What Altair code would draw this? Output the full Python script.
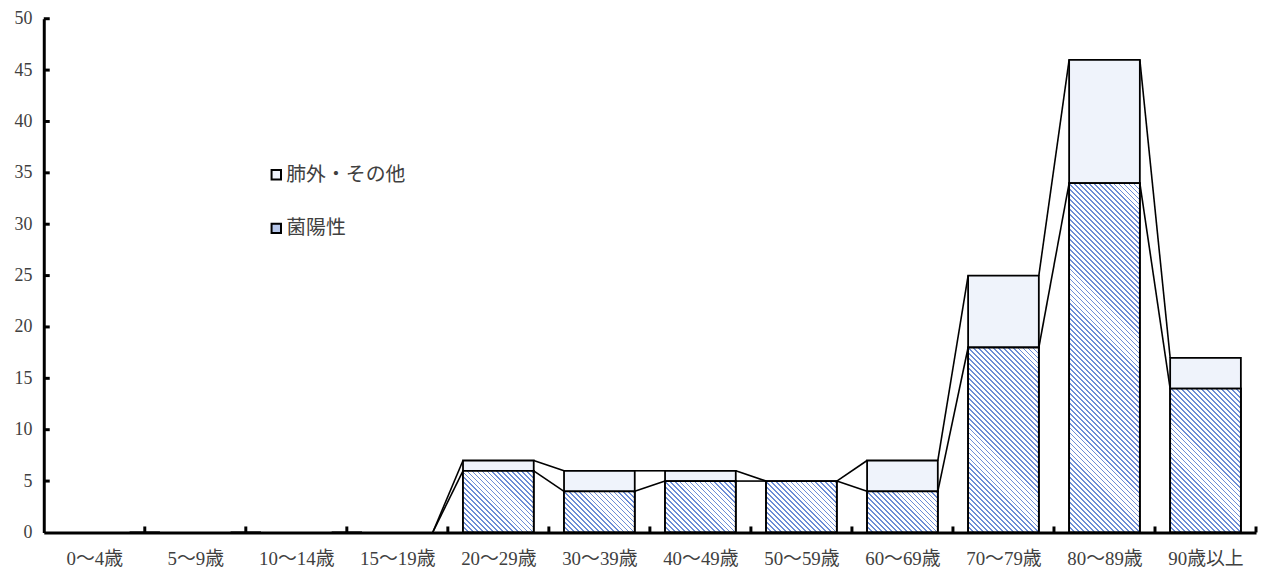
import altair as alt
import pandas as pd

categories = ["0～4歳", "5～9歳", "10～14歳", "15～19歳", "20～29歳", "30～39歳",
              "40～49歳", "50～59歳", "60～69歳", "70～79歳", "80～89歳", "90歳以上"]
positive = [0, 0, 0, 0, 6, 4, 5, 5, 4, 18, 34, 14]      # 菌陽性
extra = [0, 0, 0, 0, 1, 2, 1, 0, 3, 7, 12, 3]           # 肺外・その他
series_names = ["肺外・その他", "菌陽性"]
series_colors = ["#eff3fb", "#b7c7ea"]
y_ticks = list(range(0, 51, 5))

FONT = "Liberation Serif, Noto Sans CJK JP"
HALF = 0.35
W, H = 1220, 517
Y_MAX = 50
HATCH_BLUE = "#6d8dd6"
HATCH_PERIOD = 5.0      # px, horizontal spacing of the diagonal hatch
HATCH_FRAC = 0.36

totals = [p + e for p, e in zip(positive, extra)]

rows = []
for i, c in enumerate(categories):
    if positive[i] > 0:
        rows.append(dict(idx=i, cat=c, series="菌陽性", lo=0, hi=positive[i]))
    if extra[i] > 0:
        rows.append(dict(idx=i, cat=c, series="肺外・その他", lo=positive[i], hi=totals[i]))
bars_df = pd.DataFrame(rows)
bars_df["x1"] = bars_df["idx"] - HALF
bars_df["x2"] = bars_df["idx"] + HALF

seg = []
g = 0
for i in range(len(categories) - 1):
    for level in (positive, totals):
        seg.append(dict(g=g, x=i + HALF, y=level[i]))
        seg.append(dict(g=g, x=i + 1 - HALF, y=level[i + 1]))
        g += 1
seg_df = pd.DataFrame(seg)

ytick_df = pd.DataFrame({"y": y_ticks[1:]})
xtick_df = pd.DataFrame({"x": [k + 0.5 for k in range(len(categories))]})

label_expr = "[" + ",".join("'" + c + "'" for c in categories) + "][datum.value]"

xscale = alt.Scale(domain=[-0.5, len(categories) - 0.5], nice=False, zero=False)
yscale = alt.Scale(domain=[0, Y_MAX], nice=False)

xaxis = alt.Axis(values=list(range(len(categories))), labelExpr=label_expr, ticks=False,
                 grid=False, domainColor="black", domainWidth=3, labelPadding=17,
                 labelFont=FONT, labelFontSize=19, labelColor="#404040", title=None,
                 zindex=1, labelOverlap=False)
yaxis = alt.Axis(values=y_ticks, ticks=False, grid=False, domainColor="black", domainWidth=3,
                 labelPadding=12, labelFont=FONT, labelFontSize=18, labelColor="#404040",
                 title=None, zindex=1)

bars = alt.Chart(bars_df).mark_rect(stroke="black", strokeWidth=1.8).encode(
    x=alt.X("x1:Q", scale=xscale, axis=xaxis),
    x2="x2:Q",
    y=alt.Y("lo:Q", scale=yscale, axis=yaxis),
    y2="hi:Q",
    fill=alt.Fill("series:N", scale=alt.Scale(domain=series_names, range=series_colors),
                  legend=alt.Legend(orient="none", legendX=224, legendY=147, title=None,
                                    symbolType="square", symbolSize=90,
                                    symbolStrokeColor="black", symbolStrokeWidth=2,
                                    labelFont=FONT, labelFontSize=20, labelColor="#404040",
                                    labelOffset=0, rowPadding=34, padding=0)),
)


def hatch_gradient(height_px, width_px):
    # diagonal "\" stripes expressed as a linear gradient in bounding-box units
    w, h = width_px, height_px
    k = (w + h) / (w * w + h * h)
    span = w + h
    stops = []
    s = 0.0
    while s < span:
        a = s / span
        b = min((s + HATCH_PERIOD * HATCH_FRAC) / span, 1.0)
        c = min((s + HATCH_PERIOD) / span, 1.0)
        stops += [alt.GradientStop(offset=a, color=HATCH_BLUE),
                  alt.GradientStop(offset=b, color=HATCH_BLUE),
                  alt.GradientStop(offset=b, color="white"),
                  alt.GradientStop(offset=c, color="white")]
        s += HATCH_PERIOD
    return alt.LinearGradient(gradient="linear", stops=stops,
                              x1=0, y1=1, x2=k * w, y2=1 - k * h)


bar_px = W / len(categories) * 2 * HALF
hatch_layers = []
pos_rows = bars_df[bars_df["series"] == "菌陽性"]
for _, r in pos_rows.iterrows():
    hpx = (r["hi"] - r["lo"]) * H / Y_MAX
    sub = pd.DataFrame([r])
    hatch_layers.append(
        alt.Chart(sub).mark_rect(fill=hatch_gradient(hpx, bar_px), stroke="black",
                                 strokeWidth=1.8).encode(
            x=alt.X("x1:Q", scale=xscale), x2="x2:Q",
            y=alt.Y("lo:Q", scale=yscale), y2="hi:Q")
    )

lines = alt.Chart(seg_df).mark_line(color="black", strokeWidth=1.6).encode(
    x=alt.X("x:Q", scale=xscale),
    y=alt.Y("y:Q", scale=yscale),
    detail="g:N",
)

yticks = alt.Chart(ytick_df).mark_rule(color="black", strokeWidth=3).encode(
    x=alt.value(0), x2=alt.value(6), y=alt.Y("y:Q", scale=yscale)
)
xticks = alt.Chart(xtick_df).mark_rule(color="black", strokeWidth=3).encode(
    x=alt.X("x:Q", scale=xscale), y=alt.value(H), y2=alt.value(H - 6)
)

chart = alt.layer(bars, *hatch_layers, lines, yticks, xticks).properties(
    width=W, height=H,
    padding={"left": 36, "top": 9, "right": 3, "bottom": 34},
    autosize=alt.AutoSizeParams(type="none"),
    background="white",
).configure_view(stroke=None)

chart.save("out.html", embed_options={"renderer": "svg", "actions": False})
